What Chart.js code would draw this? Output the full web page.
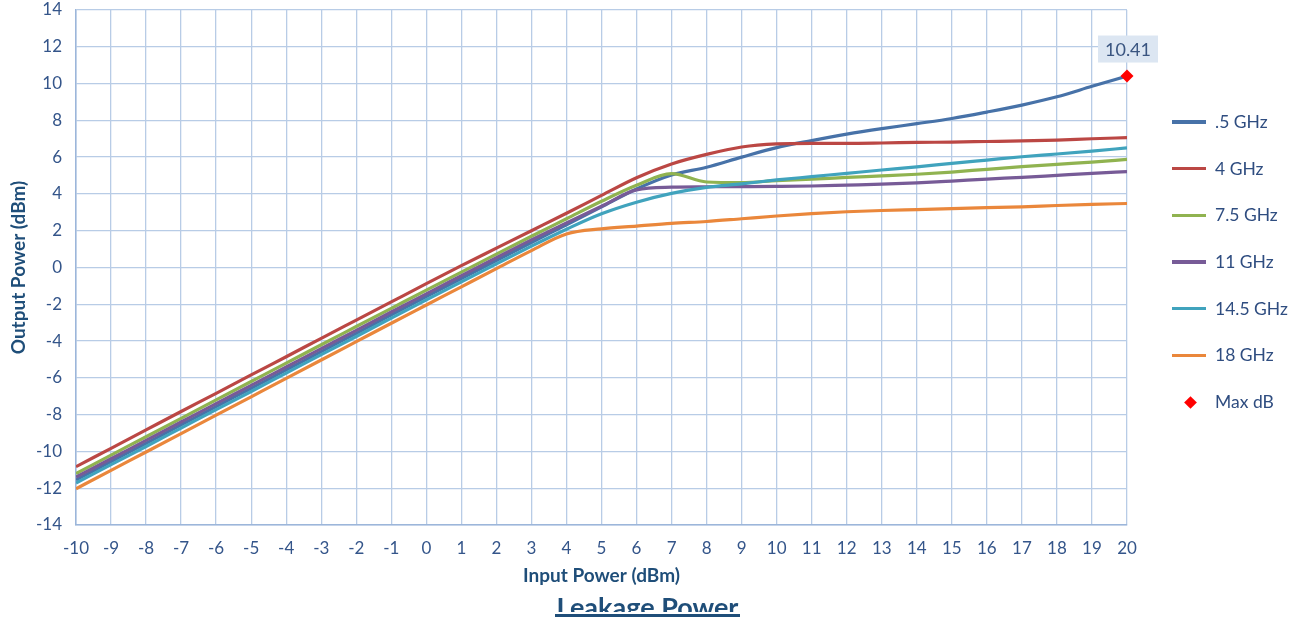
<!DOCTYPE html>
<html><head><meta charset="utf-8">
<script src="https://cdn.jsdelivr.net/npm/chart.js@4.4.1/dist/chart.umd.min.js"></script>
<style>
html,body{margin:0;padding:0;background:#fff;overflow:hidden}
#wrap{position:relative;width:1300px;height:624px}
#c{position:absolute;left:0;top:0}
#legend{position:absolute;left:0;top:0;width:1300px;height:624px;pointer-events:none;font-family:Lato,"Open Sans",sans-serif;font-size:17.5px;color:#2f4d80}
.item{position:absolute;white-space:nowrap;line-height:20px;height:20px}
.swatch{position:absolute;left:1172px;width:34px;height:3.5px}
.diamond{position:absolute;width:9px;height:9px;background:#ff0000;transform:rotate(45deg)}
.ltxt{position:absolute;left:1215px}
#ttl{position:absolute;left:520px;top:591px;width:255px;height:21px;overflow:hidden;text-align:center;font-family:Lato,sans-serif;font-weight:bold;font-size:27px;line-height:32px;color:#1f4e79}
#uline{position:absolute;left:555px;top:614px;width:185px;height:3px;background:#1f4e79}
</style></head><body>
<div id="wrap"><canvas id="c" width="1300" height="624"></canvas>
<div id="legend"></div>
<div id="ttl">Leakage Power</div><div id="uline"></div>
</div>
<script>
const inputPower = [-10,-9,-8,-7,-6,-5,-4,-3,-2,-1,0,1,2,3,4,5,6,7,8,9,10,11,12,13,14,15,16,17,18,19,20];
const seriesLabels = ['.5 GHz','4 GHz','7.5 GHz','11 GHz','14.5 GHz','18 GHz'];
const ghz05 = [-11.55,-10.55,-9.56,-8.56,-7.56,-6.57,-5.57,-4.57,-3.58,-2.58,-1.58,-0.6,0.38,1.36,2.32,3.3,4.27,5.03,5.45,6.0,6.52,6.9,7.25,7.55,7.82,8.1,8.45,8.83,9.28,9.85,10.41];
const ghz4 = [-10.83,-9.83,-8.83,-7.83,-6.84,-5.84,-4.85,-3.85,-2.86,-1.87,-0.88,0.1,1.05,2.0,2.95,3.92,4.88,5.63,6.15,6.55,6.72,6.75,6.75,6.77,6.8,6.82,6.85,6.88,6.93,7.0,7.06];
const ghz75 = [-11.2,-10.2,-9.2,-8.2,-7.2,-6.2,-5.2,-4.2,-3.21,-2.22,-1.23,-0.25,0.73,1.7,2.65,3.6,4.47,5.1,4.65,4.62,4.72,4.8,4.9,4.98,5.07,5.19,5.34,5.48,5.61,5.73,5.88];
const ghz11 = [-11.4,-10.4,-9.4,-8.4,-7.4,-6.41,-5.41,-4.41,-3.42,-2.42,-1.43,-0.45,0.53,1.5,2.42,3.33,4.22,4.37,4.39,4.4,4.41,4.43,4.48,4.53,4.6,4.7,4.81,4.9,5.01,5.12,5.21];
const ghz145 = [-11.72,-10.72,-9.73,-8.73,-7.73,-6.74,-5.74,-4.74,-3.75,-2.75,-1.76,-0.78,0.2,1.16,2.08,2.92,3.55,4.03,4.36,4.55,4.76,4.94,5.12,5.3,5.47,5.66,5.84,6.02,6.17,6.33,6.5];
const ghz18 = [-12.03,-11.03,-10.03,-9.03,-8.03,-7.03,-6.03,-5.03,-4.03,-3.03,-2.04,-1.05,-0.06,0.92,1.82,2.1,2.25,2.4,2.5,2.65,2.8,2.93,3.03,3.1,3.15,3.2,3.25,3.3,3.37,3.43,3.48];
const maxLabel = 'Max dB';
const maxX = [20];
const maxY = [10.41];
const yTicks = {min:-14, max:14, step:2};
const xTicks = {min:-10, max:20, step:1};

const colors = ['#4772a8','#bb4744','#90b350','#775b97','#40a3bd','#ea873b'];
const seriesValues = [ghz05, ghz4, ghz75, ghz11, ghz145, ghz18];

const datasets = seriesValues.map((vals,i)=>({
  type:'line',
  label: seriesLabels[i],
  data: inputPower.map((x,j)=>({x:x,y:vals[j]})),
  borderColor: colors[i],
  backgroundColor: colors[i],
  borderWidth: 3.2,
  pointRadius: 0,
  cubicInterpolationMode: 'monotone',
  fill:false,
  order: 10 - i
}));
datasets.push({
  type:'scatter',
  label: maxLabel,
  data: maxX.map((x,j)=>({x:x,y:maxY[j]})),
  pointStyle:'rectRot',
  pointRadius:6.5,
  pointHoverRadius:6.5,
  backgroundColor:'#ff0000',
  borderColor:'#ff0000',
  borderWidth:0,
  clip:false,
  order: 0
});

const valueLabelPlugin = {
  id:'valueLabel',
  afterDatasetsDraw(chart){
    const {ctx, scales:{x,y}} = chart;
    ctx.save();
    maxX.forEach((mx,j)=>{
      const px = x.getPixelForValue(mx), py = y.getPixelForValue(maxY[j]);
      const txt = maxY[j].toFixed(2);
      ctx.font = '18px Lato, "Open Sans", sans-serif';
      const w = ctx.measureText(txt).width + 14, h = 27;
      const cx = px + 1, cy = py - 27;
      ctx.fillStyle = '#dce6f2';
      ctx.fillRect(cx - w/2, cy - h/2, w, h);
      ctx.fillStyle = '#3a5580';
      ctx.textAlign = 'center'; ctx.textBaseline = 'middle';
      ctx.fillText(txt, cx, cy + 1);
    });
    ctx.restore();
  }
};

const gridColor = '#b8cce6';
const tickColor = '#34558a';
const titleColor = '#1f4e79';

new Chart(document.getElementById('c'), {
  data:{datasets},
  options:{
    responsive:false,
    animation:false,
    layout:{padding:{top:10,right:173,left:0,bottom:0}},
    plugins:{legend:{display:false},tooltip:{enabled:false}},
    scales:{
      x:{
        type:'linear', min:xTicks.min, max:xTicks.max,
        ticks:{stepSize:xTicks.step, color:tickColor, padding:13, font:{family:'Lato', size:17}},
        grid:{color:gridColor, lineWidth:1.3, drawTicks:false},
        border:{color:'#9cb6da', width:1.5},
        title:{display:true, text:'Input Power (dBm)', color:titleColor, font:{family:'Lato', size:19, weight:'bold'}, padding:{top:0,bottom:37}},
        afterFit(s){ s.height = 99; s.paddingLeft = 0; s.paddingRight = 0; }
      },
      y:{
        type:'linear', min:yTicks.min, max:yTicks.max,
        ticks:{stepSize:yTicks.step, color:tickColor, padding:14, font:{family:'Lato', size:17}},
        grid:{color:gridColor, lineWidth:1.3, drawTicks:false},
        border:{color:'#9cb6da', width:1.5},
        title:{display:true, text:'Output Power (dBm)', color:titleColor, font:{family:'Lato', size:19, weight:'bold'}, padding:{top:7,bottom:0}},
        afterFit(s){ s.width = 76; s.paddingTop = 0; s.paddingBottom = 0; }
      }
    }
  },
  plugins:[valueLabelPlugin]
});

// HTML legend built from datasets
const lg = document.getElementById('legend');
datasets.forEach((d,i)=>{
  const cy = 122 + i*46.67;
  if (d.type === 'line') {
    const sw = document.createElement('div');
    sw.className='swatch'; sw.style.top=(cy-1.75)+'px'; sw.style.background=d.borderColor;
    lg.appendChild(sw);
  } else {
    const dm = document.createElement('div');
    dm.className='diamond'; dm.style.left=(1190-4.5)+'px'; dm.style.top=(cy-4.5)+'px';
    lg.appendChild(dm);
  }
  const t = document.createElement('div');
  t.className='item ltxt'; t.style.top=(cy-10)+'px'; t.textContent=d.label;
  lg.appendChild(t);
});
</script>
</body></html>
